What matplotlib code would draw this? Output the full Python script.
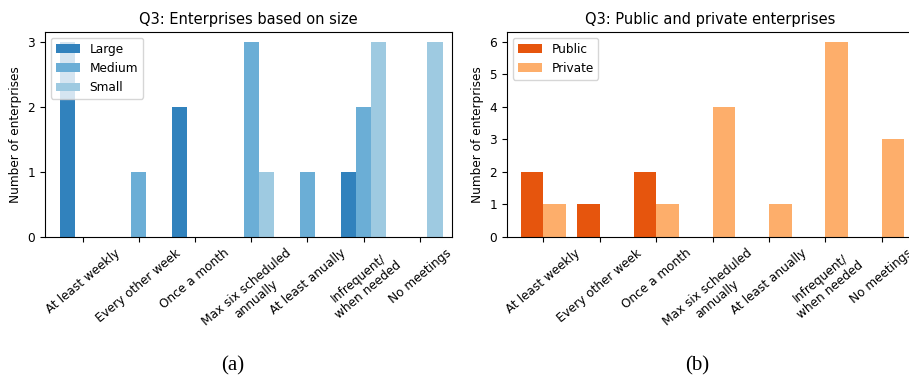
import numpy as np
import matplotlib
matplotlib.use("Agg")
import matplotlib.pyplot as plt

categories = ["At least weekly", "Every other week", "Once a month",
              "Max six scheduled\nannually", "At least anually",
              "Infrequent/\nwhen needed", "No meetings"]

# size breakdown
large = [3, 0, 2, 0, 0, 1, 0]
medium = [0, 1, 0, 3, 1, 2, 0]
small = [0, 0, 0, 1, 0, 3, 3]

# ownership breakdown
public = [2, 1, 2, 0, 0, 0, 0]
private = [1, 0, 1, 4, 1, 6, 3]

plt.rcParams['font.size'] = 8.7

fig = plt.figure(figsize=(9.09, 3.81), dpi=100)
ax1 = fig.add_axes([0.0495, 0.378, 0.448, 0.538])
ax2 = fig.add_axes([0.5574, 0.378, 0.448, 0.538])

x = np.arange(len(categories))

w = 0.27
ax1.bar(x - w, large, w, color='#3182bd', label='Large')
ax1.bar(x, medium, w, color='#6baed6', label='Medium')
ax1.bar(x + w, small, w, color='#9ecae1', label='Small')
ax1.set_title('Q3: Enterprises based on size', fontsize=10.5)
ax1.set_ylabel('Number of enterprises')
ax1.set_xticks(x)
ax1.set_xticklabels(categories, rotation=40, ha='center')
ax1.set_yticks([0, 1, 2, 3])
ax1.set_xlim(-0.67, 6.575)
ax1.legend(loc='upper left')

w2 = 0.4
ax2.bar(x - w2 / 2, public, w2, color='#e6550d', label='Public')
ax2.bar(x + w2 / 2, private, w2, color='#fdae6b', label='Private')
ax2.set_title('Q3: Public and private enterprises', fontsize=10.5)
ax2.set_ylabel('Number of enterprises')
ax2.set_xticks(x)
ax2.set_xticklabels(categories, rotation=40, ha='center')
ax2.set_xlim(-0.65, 6.57)
ax2.legend(loc='upper left')

fig.text(233 / 909, 1 - 366 / 381, '(a)', ha='center', va='center',
         family='Liberation Serif', fontsize=15)
fig.text(697 / 909, 1 - 366 / 381, '(b)', ha='center', va='center',
         family='Liberation Serif', fontsize=15)

fig.savefig('out.png', dpi=100)
